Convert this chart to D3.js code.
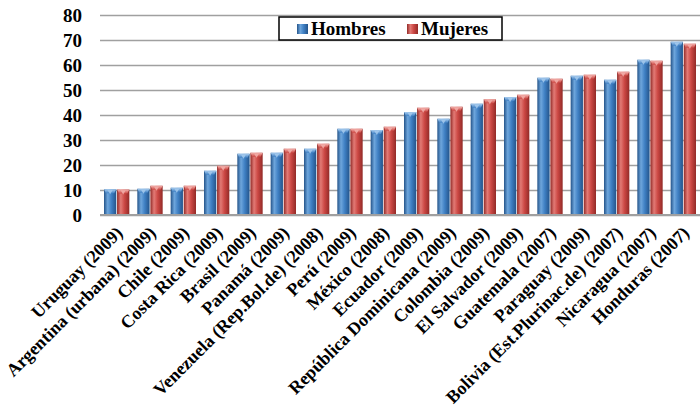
<!DOCTYPE html>
<html>
<head>
<meta charset="utf-8">
<script src="https://cdn.jsdelivr.net/npm/d3@7"></script>
</head>
<body style="margin:0;background:#fff">
<svg id="chart" width="700" height="409" style="display:block"></svg>
<script>
// Countries (survey year)
const categories = [
  "Uruguay (2009)", "Argentina (urbana) (2009)", "Chile (2009)", "Costa Rica (2009)",
  "Brasil (2009)", "Panamá (2009)", "Venezuela (Rep.Bol.de) (2008)", "Perú (2009)",
  "México (2008)", "Ecuador (2009)", "República Dominicana (2009)", "Colombia (2009)",
  "El Salvador (2009)", "Guatemala (2007)", "Paraguay (2009)",
  "Bolivia (Est.Plurinac.de) (2007)", "Nicaragua (2007)", "Honduras (2007)"
];
const seriesNames = ["Hombres", "Mujeres"];
const hombres = [10.3, 10.5, 10.9, 17.7, 24.5, 24.9, 26.5, 34.5, 34.0, 41.2, 38.5, 44.5, 47.2, 54.9, 55.7, 54.1, 62.1, 69.3];
const mujeres = [10.2, 11.7, 11.7, 19.7, 24.9, 26.5, 28.5, 34.5, 35.3, 42.9, 43.3, 46.3, 48.1, 54.5, 56.1, 57.3, 61.7, 68.5];
const yTicks = [0, 10, 20, 30, 40, 50, 60, 70, 80];

const FONT = "Liberation Serif";
const svg = d3.select("#chart");
const plot = { left: 100, right: 700, top: 15, bottom: 215 };

const x0 = d3.scaleBand().domain(categories).range([plot.left, plot.right]).padding(0);
const x1 = d3.scaleBand().domain(seriesNames)
  .range([x0.bandwidth() * 0.12, x0.bandwidth() * 0.88]).paddingInner(0.06);
const y = d3.scaleLinear().domain([0, 80]).range([plot.bottom, plot.top]);

// Cylinder-like shading for each series
const palette = {
  Hombres: { dark: "#24548a", mid: "#3f80c4", light: "#6ea6dc", top: "#a9cdef" },
  Mujeres: { dark: "#922a27", mid: "#cc4844", light: "#e27a75", top: "#f4b3ae" }
};
const defs = svg.append("defs");
seriesNames.forEach((s, i) => {
  const p = palette[s];
  const g = defs.append("linearGradient").attr("id", "grad" + i)
    .attr("x1", "0%").attr("x2", "100%").attr("y1", "0%").attr("y2", "0%");
  g.append("stop").attr("offset", "0%").attr("stop-color", p.dark);
  g.append("stop").attr("offset", "30%").attr("stop-color", p.light);
  g.append("stop").attr("offset", "60%").attr("stop-color", p.mid);
  g.append("stop").attr("offset", "100%").attr("stop-color", p.dark);
  const t = defs.append("linearGradient").attr("id", "top" + i)
    .attr("x1", "0%").attr("x2", "0%").attr("y1", "0%").attr("y2", "100%");
  t.append("stop").attr("offset", "0%").attr("stop-color", p.top);
  t.append("stop").attr("offset", "100%").attr("stop-color", p.mid);
});

function styleText(sel, size) {
  sel.attr("font-family", FONT).attr("font-weight", "bold")
    .attr("font-size", size).attr("fill", "#000")
    .style("font-family", FONT).style("font-weight", "bold").style("font-size", size + "px");
}

// Gridlines
svg.append("g")
  .attr("transform", `translate(${plot.left},0)`)
  .call(d3.axisLeft(y).tickValues(yTicks).tickSize(-(plot.right - plot.left)).tickFormat(""))
  .call(g => g.select(".domain").remove())
  .call(g => g.selectAll(".tick line").attr("stroke", "#a0a0a0").attr("stroke-width", 1.5));

// Y tick labels
svg.append("g")
  .attr("transform", `translate(${plot.left},0)`)
  .call(d3.axisLeft(y).tickValues(yTicks).tickSize(0).tickPadding(18))
  .call(g => g.select(".domain").remove())
  .call(g => styleText(g.selectAll(".tick text"), 19));

// Bars
const series = [hombres, mujeres];
const groups = svg.append("g").selectAll("g")
  .data(categories).join("g")
  .attr("transform", d => `translate(${x0(d)},0)`);

groups.each(function(cat, ci) {
  const g = d3.select(this);
  seriesNames.forEach((s, si) => {
    const v = series[si][ci];
    const bx = x1(s), bw = x1.bandwidth();
    const by = y(v), bh = y(0) - y(v);
    g.append("rect")
      .attr("x", bx).attr("y", by).attr("width", bw).attr("height", bh)
      .attr("fill", `url(#grad${si})`);
    // bevelled top
    const bev = Math.min(4, bh);
    g.append("path")
      .attr("d", `M${bx},${by}L${bx + bw},${by}L${bx + bw - 2},${by + bev}L${bx + 2},${by + bev}Z`)
      .attr("fill", `url(#top${si})`);
    g.append("path")
      .attr("d", `M${bx + bw * 0.3},${by + 1}L${bx + bw * 0.7},${by + 1}L${bx + bw * 0.5},${by + bev + 1}Z`)
      .attr("fill", palette[s].top).attr("opacity", 0.8);
  });
});

// Baseline
svg.append("line")
  .attr("x1", plot.left).attr("x2", plot.right)
  .attr("y1", y(0)).attr("y2", y(0))
  .attr("stroke", "#a0a0a0").attr("stroke-width", 2);

// Category labels, slanted
const xAxis = svg.append("g")
  .attr("transform", `translate(0,${plot.bottom})`)
  .call(d3.axisBottom(x0).tickSize(0).tickPadding(0));
xAxis.select(".domain").remove();
styleText(xAxis.selectAll(".tick text"), 18);
xAxis.selectAll(".tick text")
  .attr("text-anchor", "end")
  .attr("dy", 0)
  .attr("transform", "translate(7,19) rotate(-45)");

// Legend
const legend = svg.append("g");
legend.append("rect")
  .attr("x", 279).attr("y", 17).attr("width", 223).attr("height", 23)
  .attr("fill", "#fff").attr("stroke", "#000").attr("stroke-width", 1.5);
const legendX = [297, 407];
seriesNames.forEach((s, i) => {
  legend.append("rect")
    .attr("x", legendX[i]).attr("y", 24).attr("width", 11).attr("height", 10)
    .attr("fill", `url(#grad${i})`);
  styleText(legend.append("text")
    .attr("x", legendX[i] + 14).attr("y", 35)
    .text(s), 19);
});
</script>
</body>
</html>
